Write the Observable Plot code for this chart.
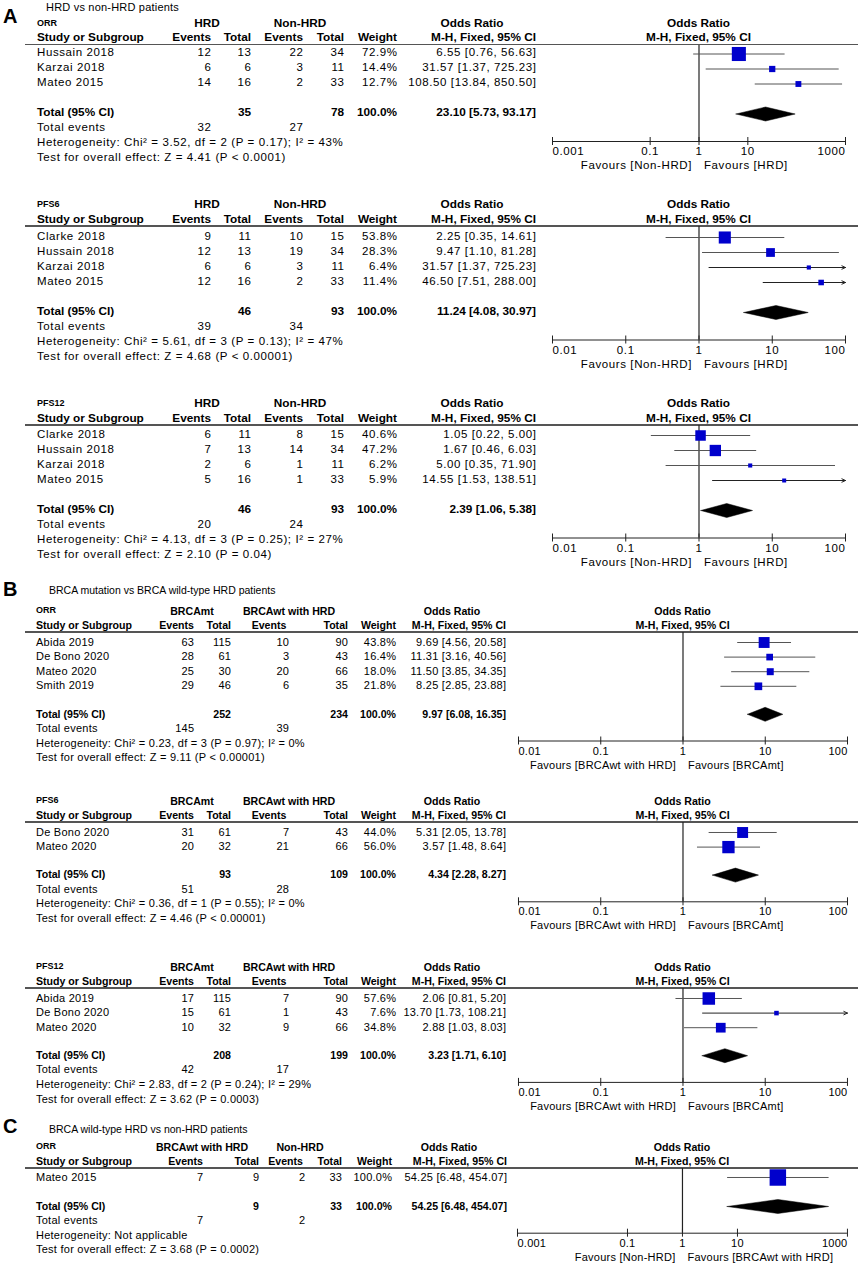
<!DOCTYPE html>
<html><head><meta charset="utf-8">
<script src="https://cdn.jsdelivr.net/npm/d3@7"></script>
<script src="https://cdn.jsdelivr.net/npm/@observablehq/plot@0.6"></script>
<style>
html,body{margin:0;padding:0;background:#fff;overflow:hidden;}
#root{position:relative;width:858px;height:1264px;overflow:hidden;font-family:"Liberation Sans",Arial,sans-serif;color:#000;}
.t{position:absolute;white-space:nowrap;line-height:1;}
</style></head><body><div id="root"></div>
<script>
// ---------------- DATA ----------------
// rows: [study, events1, total1, events2, total2, weight %, OR, lower, upper]
const aOrrStudies = [
  ["Hussain 2018", 12, 13, 22, 34, 72.9, 6.55, 0.76, 56.63],
  ["Karzai 2018", 6, 6, 3, 11, 14.4, 31.57, 1.37, 725.23],
  ["Mateo 2015", 14, 16, 2, 33, 12.7, 108.50, 13.84, 850.50]
];
// totals: [total1, total2, weight, OR, lower, upper, totalEvents1, totalEvents2]
const aOrrTotal = [35, 78, 100.0, 23.10, 5.73, 93.17, 32, 27];
const aOrrHet = "Heterogeneity: Chi² = 3.52, df = 2 (P = 0.17); I² = 43%";
const aOrrTest = "Test for overall effect: Z = 4.41 (P < 0.0001)";

const aPfs6Studies = [
  ["Clarke 2018", 9, 11, 10, 15, 53.8, 2.25, 0.35, 14.61],
  ["Hussain 2018", 12, 13, 19, 34, 28.3, 9.47, 1.10, 81.28],
  ["Karzai 2018", 6, 6, 3, 11, 6.4, 31.57, 1.37, 725.23],
  ["Mateo 2015", 12, 16, 2, 33, 11.4, 46.50, 7.51, 288.00]
];
const aPfs6Total = [46, 93, 100.0, 11.24, 4.08, 30.97, 39, 34];
const aPfs6Het = "Heterogeneity: Chi² = 5.61, df = 3 (P = 0.13); I² = 47%";
const aPfs6Test = "Test for overall effect: Z = 4.68 (P < 0.00001)";

const aPfs12Studies = [
  ["Clarke 2018", 6, 11, 8, 15, 40.6, 1.05, 0.22, 5.00],
  ["Hussain 2018", 7, 13, 14, 34, 47.2, 1.67, 0.46, 6.03],
  ["Karzai 2018", 2, 6, 1, 11, 6.2, 5.00, 0.35, 71.90],
  ["Mateo 2015", 5, 16, 1, 33, 5.9, 14.55, 1.53, 138.51]
];
const aPfs12Total = [46, 93, 100.0, 2.39, 1.06, 5.38, 20, 24];
const aPfs12Het = "Heterogeneity: Chi² = 4.13, df = 3 (P = 0.25); I² = 27%";
const aPfs12Test = "Test for overall effect: Z = 2.10 (P = 0.04)";

const bOrrStudies = [
  ["Abida 2019", 63, 115, 10, 90, 43.8, 9.69, 4.56, 20.58],
  ["De Bono 2020", 28, 61, 3, 43, 16.4, 11.31, 3.16, 40.56],
  ["Mateo 2020", 25, 30, 20, 66, 18.0, 11.50, 3.85, 34.35],
  ["Smith 2019", 29, 46, 6, 35, 21.8, 8.25, 2.85, 23.88]
];
const bOrrTotal = [252, 234, 100.0, 9.97, 6.08, 16.35, 145, 39];
const bOrrHet = "Heterogeneity: Chi² = 0.23, df = 3 (P = 0.97); I² = 0%";
const bOrrTest = "Test for overall effect: Z = 9.11 (P < 0.00001)";

const bPfs6Studies = [
  ["De Bono 2020", 31, 61, 7, 43, 44.0, 5.31, 2.05, 13.78],
  ["Mateo 2020", 20, 32, 21, 66, 56.0, 3.57, 1.48, 8.64]
];
const bPfs6Total = [93, 109, 100.0, 4.34, 2.28, 8.27, 51, 28];
const bPfs6Het = "Heterogeneity: Chi² = 0.36, df = 1 (P = 0.55); I² = 0%";
const bPfs6Test = "Test for overall effect: Z = 4.46 (P < 0.00001)";

const bPfs12Studies = [
  ["Abida 2019", 17, 115, 7, 90, 57.6, 2.06, 0.81, 5.20],
  ["De Bono 2020", 15, 61, 1, 43, 7.6, 13.70, 1.73, 108.21],
  ["Mateo 2020", 10, 32, 9, 66, 34.8, 2.88, 1.03, 8.03]
];
const bPfs12Total = [208, 199, 100.0, 3.23, 1.71, 6.10, 42, 17];
const bPfs12Het = "Heterogeneity: Chi² = 2.83, df = 2 (P = 0.24); I² = 29%";
const bPfs12Test = "Test for overall effect: Z = 3.62 (P = 0.0003)";

const cOrrStudies = [
  ["Mateo 2015", 7, 9, 2, 33, 100.0, 54.25, 6.48, 454.07]
];
const cOrrTotal = [9, 33, 100.0, 54.25, 6.48, 454.07, 7, 2];
const cOrrHet = "Heterogeneity: Not applicable";
const cOrrTest = "Test for overall effect: Z = 3.68 (P = 0.0002)";

const ticksWide = [0.001, 0.1, 1, 10, 1000];
const ticksWideLabels = ["0.001", "0.1", "1", "10", "1000"];
const ticksNarrow = [0.01, 0.1, 1, 10, 100];
const ticksNarrowLabels = ["0.01", "0.1", "1", "10", "100"];

const groupsA = ["HRD", "Non-HRD"];
const groupsB = ["BRCAmt", "BRCAwt with HRD"];
const groupsC = ["BRCAwt with HRD", "Non-HRD"];
const favoursA = ["Favours [Non-HRD]", "Favours [HRD]"];
const favoursB = ["Favours [BRCAwt with HRD]", "Favours [BRCAmt]"];
const favoursC = ["Favours [Non-HRD]", "Favours [BRCAwt with HRD]"];

const sectionLetters = ["A", "B", "C"];
const sectionTitles = ["HRD vs non-HRD patients", "BRCA mutation vs BRCA wild-type HRD patients", "BRCA wild-type HRD vs non-HRD patients"];
const outcomeLabels = ["ORR", "PFS6", "PFS12"];

// ---------------- LAYOUT ----------------
const W = 858;
const FONT = '"Liberation Sans", Arial, sans-serif';
const root = document.getElementById("root");

const layA = {size: 11.5, ls: 0.6, bsize: 11.8, step: 15, gap: 30, name: 37,
  cols: [211, 251, 303, 344, 397, 536], g1: 207, g2: 300, orc: 472,
  hdr: [["Events","end",211],["Total","end",251],["Events","end",303],["Total","end",344],["Weight","end",397],["M-H, Fixed, 95% CI","end",536]],
  plot: [552, 845]};
const layB = {size: 11, ls: 0.25, bsize: 10.6, step: 14.6, gap: 28, name: 36,
  cols: [194, 231, 289, 348, 396, 506], g1: 192, g2: 289, orc: 452,
  hdr: [["Events","end",194],["Total","end",231],["Events","middle",269],["Total","end",348],["Weight","end",396],["M-H, Fixed, 95% CI","end",506]],
  plot: [518, 847]};
const layC = {size: 11, ls: 0.25, bsize: 10.6, step: 14.6, gap: 29, name: 36,
  cols: [203, 259, 305, 342, 392, 507], g1: 202, g2: 300, orc: 449,
  hdr: [["Events","end",203],["Total","end",259],["Events","end",303],["Total","end",342],["Weight","end",392],["M-H, Fixed, 95% CI","end",507]],
  plot: [517, 847]};

const panels = [
  {lay: layA, L: 44.5, rowStart: 8.5, label: outcomeLabels[0], studies: aOrrStudies, total: aOrrTotal, het: aOrrHet, test: aOrrTest, ticks: ticksWide, tickLabels: ticksWideLabels, groups: groupsA, favours: favoursA},
  {lay: layA, L: 226, rowStart: 11, label: outcomeLabels[1], studies: aPfs6Studies, total: aPfs6Total, het: aPfs6Het, test: aPfs6Test, ticks: ticksNarrow, tickLabels: ticksNarrowLabels, groups: groupsA, favours: favoursA},
  {lay: layA, L: 425, rowStart: 10, label: outcomeLabels[2], studies: aPfs12Studies, total: aPfs12Total, het: aPfs12Het, test: aPfs12Test, ticks: ticksNarrow, tickLabels: ticksNarrowLabels, groups: groupsA, favours: favoursA},
  {lay: layB, L: 632, rowStart: 10, label: outcomeLabels[0], studies: bOrrStudies, total: bOrrTotal, het: bOrrHet, test: bOrrTest, ticks: ticksNarrow, tickLabels: ticksNarrowLabels, groups: groupsB, favours: favoursB},
  {lay: layB, L: 822, rowStart: 10, label: outcomeLabels[1], studies: bPfs6Studies, total: bPfs6Total, het: bPfs6Het, test: bPfs6Test, ticks: ticksNarrow, tickLabels: ticksNarrowLabels, groups: groupsB, favours: favoursB},
  {lay: layB, L: 988, rowStart: 10, label: outcomeLabels[2], studies: bPfs12Studies, total: bPfs12Total, het: bPfs12Het, test: bPfs12Test, ticks: ticksNarrow, tickLabels: ticksNarrowLabels, groups: groupsB, favours: favoursB},
  {lay: layC, L: 1168, rowStart: 9, label: outcomeLabels[0], studies: cOrrStudies, total: cOrrTotal, het: cOrrHet, test: cOrrTest, ticks: ticksWide, tickLabels: ticksWideLabels, groups: groupsC, favours: favoursC}
];

function txt(s, x, y, o = {}) {
  const d = document.createElement("div");
  d.className = "t";
  d.textContent = s;
  const size = o.size || 11;
  d.style.fontSize = size + "px";
  if (o.bold) d.style.fontWeight = "bold";
  if (o.ls) d.style.letterSpacing = o.ls + "px";
  d.style.top = (y - size / 2) + "px";
  if (o.anchor === "end") d.style.right = (W - x - (o.ls || 0)) + "px";
  else if (o.anchor === "middle") { d.style.left = x + "px"; d.style.transform = "translateX(-50%)"; }
  else d.style.left = x + "px";
  root.appendChild(d);
}

function hline(x, y, w, h, color) {
  const d = document.createElement("div");
  d.style.cssText = `position:absolute;left:${x}px;top:${y - h / 2}px;width:${w}px;height:${h}px;background:${color};`;
  root.appendChild(d);
}

const fmt2 = v => v.toFixed(2);
const orText = (o, l, u) => `${fmt2(o)} [${fmt2(l)}, ${fmt2(u)}]`;

function drawPanel(p) {
  const a = p.lay, L = p.L;
  const reg = {size: a.size, ls: a.ls};
  const bold = {size: a.bsize, bold: true};
  const [xa, xb] = a.plot;
  const pc = (xa + xb) / 2;
  // headers
  txt(p.label, a.name, L - 21.5, {size: 9, bold: true});
  txt(p.groups[0], a.g1, L - 21, {...bold, anchor: "middle"});
  txt(p.groups[1], a.g2, L - 21, {...bold, anchor: "middle"});
  txt("Odds Ratio", a.orc, L - 21, {...bold, anchor: "middle"});
  txt("Odds Ratio", pc, L - 21, {...bold, anchor: "middle"});
  txt("Study or Subgroup", a.name, L - 6.5, bold);
  a.hdr.forEach(h => txt(h[0], h[2], L - 6.5, {...bold, anchor: h[1]}));
  txt("M-H, Fixed, 95% CI", pc, L - 6.5, {...bold, anchor: "middle"});
  hline(25, L, W - 25, 1.6, "#555");
  // study rows
  const rowY = p.studies.map((r, i) => L + p.rowStart + a.step * i);
  p.studies.forEach((r, i) => {
    const y = rowY[i];
    txt(r[0], a.name, y, reg);
    txt(String(r[1]), a.cols[0], y, {...reg, anchor: "end"});
    txt(String(r[2]), a.cols[1], y, {...reg, anchor: "end"});
    txt(String(r[3]), a.cols[2], y, {...reg, anchor: "end"});
    txt(String(r[4]), a.cols[3], y, {...reg, anchor: "end"});
    txt(r[5].toFixed(1) + "%", a.cols[4], y, {...reg, anchor: "end"});
    txt(orText(r[6], r[7], r[8]), a.cols[5], y, {...reg, anchor: "end"});
  });
  const t = p.total;
  const totalY = rowY[rowY.length - 1] + a.gap;
  const evY = totalY + a.step, hetY = evY + a.step, testY = hetY + a.step;
  txt("Total (95% CI)", a.name, totalY, bold);
  txt(String(t[0]), a.cols[1], totalY, {...bold, anchor: "end"});
  txt(String(t[1]), a.cols[3], totalY, {...bold, anchor: "end"});
  txt(t[2].toFixed(1) + "%", a.cols[4], totalY, {...bold, anchor: "end"});
  txt(orText(t[3], t[4], t[5]), a.cols[5], totalY, {...bold, anchor: "end"});
  txt("Total events", a.name, evY, reg);
  txt(String(t[6]), a.cols[0], evY, {...reg, anchor: "end"});
  txt(String(t[7]), a.cols[2], evY, {...reg, anchor: "end"});
  txt(p.het, a.name, hetY, reg);
  txt(p.test, a.name, testY, reg);

  // forest plot
  const axisY = hetY - 2.5 - L;
  const H = axisY + 34;
  const dmin = p.ticks[0], dmax = p.ticks[p.ticks.length - 1];
  const rows = p.studies.map((r, i) => ({w: r[5], or: r[6], lo: r[7], hi: r[8], y: rowY[i] - L}));
  const inside = rows.filter(d => d.hi <= dmax);
  const clipped = rows.filter(d => d.hi > dmax);
  const ty = totalY - L;
  const diamond = [[t[4], ty], [t[3], ty - 7], [t[5], ty], [t[3], ty + 7], [t[4], ty]];
  const tk = p.ticks.map((v, i) => ({v, label: p.tickLabels[i], i}));
  const n = tk.length;
  const textStyle = {fontFamily: FONT, fontSize: a.size, fill: "black"};
  const svg = Plot.plot({
    width: W, height: H,
    marginLeft: xa, marginRight: W - xb, marginTop: 0, marginBottom: 0,
    x: {type: "log", domain: [dmin, dmax], axis: null},
    y: {type: "identity", axis: null},
    r: {type: "sqrt", domain: [0, 100], range: [0, 9.3]},
    style: {background: "transparent", overflow: "visible", fontFamily: FONT, letterSpacing: a.ls + "px"},
    marks: [
      Plot.ruleX([1], {x: d => d, y1: () => 0, y2: () => axisY, stroke: "#222", strokeWidth: 1.2}),
      Plot.link(inside, {x1: "lo", x2: "hi", y1: "y", y2: "y", stroke: "#555", strokeWidth: 1}),
      Plot.arrow(clipped, {x1: "lo", x2: () => dmax, y1: "y", y2: "y", stroke: "#222", strokeWidth: 1, headLength: 6, headAngle: 50, bend: 0}),
      Plot.dot(rows, {x: "or", y: "y", r: "w", symbol: "square", fill: "#0000cc", stroke: "none"}),
      Plot.line(diamond, {x: d => d[0], y: d => d[1], fill: "black", stroke: "black", strokeWidth: 0.5}),
      Plot.ruleY([axisY], {y: d => d, x1: () => dmin, x2: () => dmax, stroke: "#222", strokeWidth: 1}),
      Plot.ruleX(p.ticks, {x: d => d, y1: () => axisY - 4, y2: () => axisY + 4, stroke: "#222", strokeWidth: 1}),
      Plot.text(tk.filter(d => d.i === 0), {x: "v", y: () => axisY + 10, text: "label", textAnchor: "start", ...textStyle}),
      Plot.text(tk.filter(d => d.i > 0 && d.i < n - 1), {x: "v", y: () => axisY + 10, text: "label", textAnchor: "middle", ...textStyle}),
      Plot.text(tk.filter(d => d.i === n - 1), {x: "v", y: () => axisY + 10, text: "label", textAnchor: "end", ...textStyle}),
      Plot.text([p.favours[0]], {x: () => 1, y: () => axisY + 24, text: d => d, textAnchor: "end", dx: -7, ...textStyle}),
      Plot.text([p.favours[1]], {x: () => 1, y: () => axisY + 24, text: d => d, textAnchor: "start", dx: 5, ...textStyle})
    ]
  });
  svg.style.position = "absolute";
  svg.style.left = "0px";
  svg.style.top = L + "px";
  root.appendChild(svg);
}

// section letters and titles
txt(sectionLetters[0], 3, 16, {size: 20, bold: true});
txt(sectionTitles[0], 46, 7, {size: 11, ls: 0.2});
txt(sectionLetters[1], 3, 589, {size: 20, bold: true});
txt(sectionTitles[1], 49, 590, {size: 10.5});
txt(sectionLetters[2], 3, 1126, {size: 20, bold: true});
txt(sectionTitles[2], 49, 1129, {size: 10.5});

panels.forEach(drawPanel);
</script></body></html>
